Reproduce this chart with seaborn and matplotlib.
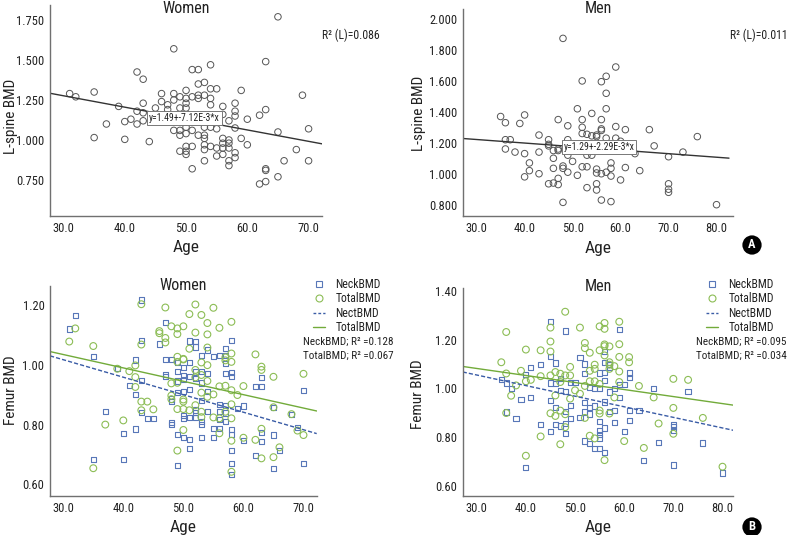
import numpy as np
import matplotlib
matplotlib.use('Agg')
import matplotlib.pyplot as plt
from matplotlib import font_manager
from matplotlib.lines import Line2D
from matplotlib.ticker import FormatStrFormatter
import seaborn as sns

# ---- data ----
# (A) lumbar spine BMD vs age
women_ls_age = [31, 32, 35, 35, 37, 39, 40, 40, 41, 42, 42, 42, 43, 43, 43, 43, 44, 45, 46, 46,
                47, 47, 48, 48, 48, 48, 49, 49, 49, 49, 49, 50, 50, 50, 50, 50, 50, 50, 50, 50,
                51, 51, 51, 51, 51, 52, 52, 52, 52, 52, 53, 53, 53, 53, 53, 53, 53, 53, 54, 54,
                54, 54, 54, 54, 55, 55, 55, 55, 56, 56, 56, 56, 56, 56, 57, 57, 57, 57, 57, 57,
                58, 58, 58, 58, 58, 58, 59, 59, 60, 60, 62, 62, 63, 63, 63, 63, 63, 65, 65, 65,
                66, 68, 69, 70, 70, 49, 50, 51, 52]
women_ls_bmd = [1.29, 1.27, 1.30, 1.015, 1.10, 1.21, 1.115, 1.004, 1.13, 1.425, 1.18, 1.10, 1.38, 1.23,
                1.17, 1.12, 0.99, 1.20, 1.29, 1.24, 1.22, 1.19, 1.57, 1.29, 1.25, 1.06, 1.27, 1.20,
                1.06, 1.03, 0.93, 1.31, 1.26, 1.23, 1.20, 1.08, 1.04, 0.96, 0.93, 0.91, 1.44, 1.27,
                1.06, 0.96, 0.82, 1.44, 1.35, 1.28, 1.26, 1.03, 1.36, 1.28, 1.08, 1.03, 1.01, 0.97,
                0.94, 0.87, 1.47, 1.32, 1.26, 1.22, 1.08, 0.96, 1.32, 1.07, 0.95, 0.90, 1.21, 1.16,
                1.01, 0.98, 0.95, 0.91, 1.12, 1.00, 0.98, 0.95, 0.87, 0.84, 1.23, 1.18, 1.15, 1.075,
                0.92, 0.89, 1.31, 1.01, 1.13, 0.97, 1.155, 0.725, 1.49, 1.19, 0.82, 0.81, 0.74, 1.77,
                1.05, 0.77, 0.87, 0.94, 1.28, 1.07, 0.87, 1.12, 1.13, 1.14, 1.12]

men_ls_age = [35, 36, 36, 36, 37, 38, 39, 40, 40, 40, 41, 41, 43, 43, 43, 45, 45, 45, 45, 46,
              46, 46, 46, 47, 47, 47, 47, 47, 48, 48, 48, 48, 49, 49, 49, 49, 50, 51, 51, 52,
              52, 52, 52, 52, 53, 53, 53, 53, 54, 54, 54, 55, 55, 55, 55, 55, 55, 56, 56, 56,
              56, 56, 56, 57, 57, 57, 57, 57, 58, 58, 58, 58, 59, 59, 59, 60, 60, 61, 61, 63,
              64, 66, 67, 70, 70, 70, 70, 73, 76, 80, 50, 51, 53]
men_ls_bmd = [1.37, 1.33, 1.22, 1.16, 1.22, 1.14, 1.325, 1.38, 1.13, 0.98, 1.07, 1.02, 1.25, 1.14,
              1.00, 1.22, 1.19, 1.18, 0.935, 1.15, 1.10, 1.035, 0.94, 1.35, 1.16, 1.15, 0.97,
              0.93, 1.875, 1.05, 1.035, 0.815, 1.31, 1.22, 1.12, 1.01, 1.08, 1.42, 0.99, 1.60,
              1.35, 1.30, 1.26, 1.045, 1.255, 1.12, 1.045, 0.91, 1.39, 1.245, 1.12, 1.25, 1.24,
              1.03, 1.005, 0.935, 0.895, 1.595, 1.35, 1.29, 1.28, 1.00, 0.83, 1.63, 1.52, 1.42,
              1.23, 1.01, 1.07, 1.035, 0.985, 0.82, 1.69, 1.305, 1.23, 1.21, 0.96, 1.285, 1.04,
              1.13, 1.02, 1.285, 1.18, 1.11, 0.935, 0.90, 0.88, 1.14, 1.24, 0.80, 1.17, 1.16, 1.19]

# fitted lines (intercept, slope)
women_ls_fit = (1.49, -7.12e-3)
men_ls_fit = (1.29, -2.29e-3)

# (B) femur BMD vs age
women_neck_age = [31, 32, 35, 35, 37, 39, 40, 40, 41, 42, 42, 42, 43, 43, 43, 43, 44, 45, 46, 47,
                  47, 47, 47, 48, 48, 48, 48, 48, 49, 49, 49, 49, 49, 49, 50, 50, 50, 50, 50, 50,
                  50, 51, 51, 51, 51, 51, 51, 51, 52, 52, 52, 52, 52, 52, 52, 53, 53, 53, 53, 53,
                  53, 53, 54, 54, 54, 54, 55, 55, 55, 56, 56, 56, 56, 56, 57, 57, 57, 57, 57, 57,
                  57, 58, 58, 58, 58, 58, 58, 58, 58, 59, 60, 60, 62, 62, 63, 63, 63, 63, 65, 65,
                  65, 66, 68, 69, 70, 70]
women_neck = [1.12, 1.165, 1.027, 0.684, 0.845, 0.987, 0.771, 0.684, 0.93, 1.016, 0.902, 0.785,
              1.217, 1.082, 0.947, 0.84, 0.82, 0.82, 1.07, 1.142, 1.017, 0.969, 0.962, 1.017,
              0.886, 0.878, 0.807, 0.80, 1.007, 0.978, 0.946, 0.907, 0.766, 0.664, 0.99, 0.965,
              0.952, 0.91, 0.83, 0.821, 0.758, 1.08, 1.007, 0.96, 0.918, 0.823, 0.75, 0.72, 1.077,
              1.06, 0.976, 0.955, 0.849, 0.84, 0.823, 1.03, 0.978, 0.939, 0.882, 0.81, 0.80,
              0.758, 1.05, 0.97, 0.91, 0.845, 1.028, 0.787, 0.756, 1.032, 0.868, 0.843, 0.816,
              0.787, 1.055, 1.03, 1.005, 0.97, 0.865, 0.839, 0.81, 1.082, 0.975, 0.962, 0.784,
              0.768, 0.714, 0.67, 0.633, 0.854, 0.862, 0.748, 0.927, 0.696, 0.958, 0.927, 0.774,
              0.743, 0.858, 0.765, 0.654, 0.714, 0.835, 0.791, 0.915, 0.669]
women_total_age = [31, 32, 35, 35, 37, 39, 40, 41, 42, 42, 42, 43, 43, 43, 43, 44, 45, 46, 46, 47,
                   47, 47, 48, 48, 48, 48, 49, 49, 49, 49, 49, 49, 49, 50, 50, 50, 50, 50, 50, 50,
                   51, 51, 51, 52, 52, 52, 52, 52, 53, 53, 53, 53, 53, 53, 54, 54, 54, 54, 54, 54,
                   55, 55, 55, 56, 56, 56, 56, 57, 57, 57, 57, 58, 58, 58, 58, 58, 58, 58, 58, 59,
                   60, 60, 62, 62, 63, 63, 63, 63, 65, 65, 65, 66, 68, 69, 70, 70]
women_total = [1.078, 1.122, 1.063, 0.654, 0.80, 0.987, 0.814, 0.979, 0.998, 0.959, 0.926, 1.203,
               1.068, 0.877, 0.848, 0.877, 0.851, 1.113, 1.106, 1.192, 1.09, 1.075, 1.129, 0.938,
               0.897, 0.885, 1.122, 1.103, 1.027, 1.01, 0.94, 0.852, 0.713, 1.129, 1.02, 1.018,
               0.884, 0.877, 0.852, 0.782, 1.17, 1.054, 0.848, 1.202, 1.108, 0.983, 0.958, 0.865,
               1.167, 1.008, 0.966, 0.907, 0.843, 0.825, 1.14, 1.102, 1.058, 0.999, 0.946, 0.893,
               1.191, 0.901, 0.824, 1.124, 0.928, 0.821, 0.771, 1.025, 1.015, 0.93, 0.843, 1.144,
               1.038, 1.01, 0.915, 0.868, 0.821, 0.746, 0.642, 0.899, 0.929, 0.756, 1.035, 0.749,
               0.994, 0.983, 0.786, 0.687, 0.96, 0.858, 0.691, 0.724, 0.835, 0.78, 0.97, 0.765]

men_neck_age = [35, 36, 36, 37, 38, 39, 40, 40, 41, 41, 43, 43, 45, 45, 45, 45, 45, 46, 46, 46,
                46, 47, 47, 47, 48, 48, 48, 48, 48, 49, 49, 49, 50, 51, 51, 52, 52, 52, 52, 52,
                53, 53, 53, 53, 54, 54, 54, 55, 55, 55, 55, 55, 55, 55, 56, 56, 56, 56, 56, 56,
                56, 57, 57, 57, 57, 58, 58, 58, 59, 59, 59, 60, 60, 61, 61, 61, 61, 63, 64, 66,
                67, 70, 70, 70, 70, 73, 76, 80]
men_neck = [1.037, 1.022, 0.903, 0.999, 0.878, 0.954, 1.057, 0.676, 1.087, 0.963, 1.097, 0.852,
            1.273, 1.132, 1.022, 0.95, 0.823, 1.104, 1.019, 0.92, 0.852, 1.04, 0.992, 0.846,
            1.235, 0.988, 0.906, 0.857, 0.815, 1.023, 0.93, 0.876, 1.023, 1.125, 0.882, 1.10,
            1.061, 0.942, 0.903, 0.784, 1.004, 0.921, 0.895, 0.775, 1.001, 0.928, 0.754, 1.063,
            0.999, 0.863, 0.826, 0.812, 0.797, 0.755, 1.151, 1.107, 1.064, 1.033, 0.944, 0.838,
            0.736, 1.099, 1.087, 0.985, 0.906, 0.999, 0.91, 0.86, 1.242, 1.016, 0.963, 1.016,
            0.824, 1.063, 1.045, 0.909, 0.868, 0.909, 0.706, 1.001, 0.777, 0.853, 0.844, 0.829,
            0.686, 0.988, 0.776, 0.653]
men_total_age = [35, 36, 36, 36, 37, 38, 39, 40, 40, 40, 41, 43, 43, 43, 45, 45, 45, 45, 45, 46,
                 46, 46, 47, 47, 47, 47, 48, 48, 48, 48, 49, 49, 49, 50, 51, 51, 52, 52, 52, 52,
                 53, 53, 53, 53, 54, 54, 54, 54, 55, 55, 55, 55, 55, 56, 56, 56, 56, 56, 56, 57,
                 57, 57, 57, 57, 58, 58, 59, 59, 59, 59, 59, 60, 61, 61, 63, 64, 66, 67, 70, 70,
                 70, 73, 76, 80]
men_total = [1.107, 1.231, 1.061, 0.899, 0.97, 1.012, 1.072, 1.159, 1.029, 0.724, 1.035, 1.156,
             1.05, 0.803, 1.249, 1.192, 1.151, 1.053, 0.898, 1.067, 0.971, 0.887, 1.06, 1.026,
             0.909, 0.771, 1.314, 1.053, 0.894, 0.841, 1.088, 1.053, 0.958, 0.992, 1.249, 0.978,
             1.186, 1.165, 1.01, 0.879, 1.146, 1.072, 1.029, 0.806, 1.097, 1.08, 1.029, 0.795,
             1.254, 1.156, 1.018, 0.909, 0.897, 1.268, 1.244, 1.18, 1.173, 1.135, 0.706, 1.172,
             1.107, 1.097, 1.08, 0.897, 1.091, 0.963, 1.273, 1.181, 1.129, 1.069, 1.026, 0.784,
             1.128, 1.107, 1.01, 0.756, 0.963, 0.856, 1.039, 0.92, 0.814, 1.035, 0.879, 0.679]

women_neck_fit = (1.193, -0.00586)
women_total_fit = (1.169, -0.00448)
men_neck_fit = (1.185, -0.00434)
men_total_fit = (1.168, -0.00288)

# ---- style ----
sns.set_style('white')


def pick_font():
    # reference uses a condensed grotesque; take the narrowest thing installed
    entries = font_manager.fontManager.ttflist
    names = {f.name for f in entries}
    for nm in ['Roboto Condensed', 'Liberation Sans Narrow', 'Noto Sans Condensed',
               'Open Sans Condensed', 'DejaVu Sans Condensed']:
        if nm in names:
            return nm, 'normal'
    for nm in ['Roboto', 'Noto Sans', 'Open Sans', 'DejaVu Sans']:
        for f in entries:
            if f.name == nm and str(f.stretch) in ('condensed', 'semi-condensed', 'extra-condensed'):
                return nm, str(f.stretch)
    return 'Liberation Sans', 'normal'


base_font, stretch = pick_font()
plt.rcParams['font.family'] = [base_font, 'DejaVu Sans']
plt.rcParams['font.stretch'] = stretch
plt.rcParams['axes.edgecolor'] = '#707070'
plt.rcParams['axes.linewidth'] = 1.0

TXT = '#222222'
GRAY_PT = '#555555'
BLUE = '#5877b8'
GREEN = '#8cbd55'
BLUE_LINE = '#3a5ca6'
GREEN_LINE = '#72ab3a'


def style_axes(ax, xlim, ylim, xticks, yticks, yfmt, ylabel, xl_y, yl_x, yl_y):
    ax.set_xlim(*xlim)
    ax.set_ylim(*ylim)
    ax.set_xticks(xticks)
    ax.set_yticks(yticks)
    ax.xaxis.set_major_formatter(FormatStrFormatter('%.1f'))
    ax.yaxis.set_major_formatter(FormatStrFormatter(yfmt))
    sns.despine(ax=ax)
    ax.tick_params(direction='in', length=4, width=0.8, color='#707070',
                   labelsize=9, labelcolor=TXT, pad=4)
    ax.set_xlabel('Age', fontsize=12.5, color=TXT)
    ax.set_ylabel(ylabel, fontsize=11, color=TXT)
    ax.xaxis.set_label_coords(0.5, xl_y)
    ax.yaxis.set_label_coords(yl_x, yl_y)


def fit_line(ax, fit, xlim, **kw):
    xs = np.linspace(xlim[0], xlim[1], 50)
    sns.lineplot(x=xs, y=fit[0] + fit[1] * xs, ax=ax, **kw)


fig = plt.figure(figsize=(7.88, 5.35), dpi=100)

# ---- A: women ----
ax = fig.add_axes([0.0635, 0.5963, 0.3452, 0.3944])
xl = (27.8, 72.2)
sns.scatterplot(x=women_ls_age, y=women_ls_bmd, ax=ax, marker='o', s=22,
                facecolors='none', edgecolor=GRAY_PT, linewidth=0.7)
fit_line(ax, women_ls_fit, xl, color='#333333', linewidth=1.0)
style_axes(ax, xl, (0.525, 1.844), [30, 40, 50, 60, 70], [0.75, 1.0, 1.25, 1.5, 1.75],
           '%.3f', 'L-spine BMD', -0.114, -0.1176, 0.474)
ax.text(0.5, 0.985, 'Women', transform=ax.transAxes, ha='center', va='center', fontsize=11.5, color=TXT)
ax.text(49.7, 1.135, 'y=1.49+-7.12E-3*x', ha='center', va='center', fontsize=7, color=TXT,
        bbox=dict(boxstyle='square,pad=0.2', fc='white', ec='#777777', lw=0.7))
fig.text(322 / 788, 1 - 35 / 535, 'R² (L)=0.086', ha='left', va='center', fontsize=8.5, color=TXT)

# ---- A: men ----
ax = fig.add_axes([0.5872, 0.5963, 0.3434, 0.3869])
xl = (27.1, 83.5)
sns.scatterplot(x=men_ls_age, y=men_ls_bmd, ax=ax, marker='o', s=22,
                facecolors='none', edgecolor=GRAY_PT, linewidth=0.7)
fit_line(ax, men_ls_fit, (27.1, 82.6), color='#333333', linewidth=1.0)
style_axes(ax, xl, (0.727, 2.065), [30, 40, 50, 60, 70, 80], [0.8, 1.0, 1.2, 1.4, 1.6, 1.8, 2.0],
           '%.3f', 'L-spine BMD', -0.121, -0.137, 0.495)
ax.text(0.5, 1.0, 'Men', transform=ax.transAxes, ha='center', va='center', fontsize=11.5, color=TXT)
ax.text(55.5, 1.175, 'y=1.29+-2.29E-3*x', ha='center', va='center', fontsize=7, color=TXT,
        bbox=dict(boxstyle='square,pad=0.2', fc='white', ec='#777777', lw=0.7))
fig.text(730 / 788, 1 - 35 / 535, 'R² (L)=0.011', ha='left', va='center', fontsize=8.5, color=TXT)
fig.text(752 / 788, 1 - 245 / 535, 'A', ha='center', va='center', color='white', fontsize=9,
         fontweight='bold', bbox=dict(boxstyle='circle,pad=0.25', fc='black', ec='none'))


def femur_panel(rect, xl, yl, xticks, yticks, neck_age, neck, total_age, total, neck_fit,
                total_fit, title, title_y, labs, leg_x, r2_x, xl_y, yl_x, yl_y):
    ax = fig.add_axes(rect)
    sns.scatterplot(x=neck_age, y=neck, ax=ax, marker='s', s=14, facecolors='none',
                    edgecolor=BLUE, linewidth=0.8)
    sns.scatterplot(x=total_age, y=total, ax=ax, marker='o', s=24, facecolors='none',
                    edgecolor=GREEN, linewidth=0.8)
    fit_line(ax, neck_fit, xl, color=BLUE_LINE, linewidth=1.0, linestyle=(0, (3, 1.5)))
    fit_line(ax, total_fit, xl, color=GREEN_LINE, linewidth=1.0)
    style_axes(ax, xl, yl, xticks, yticks, '%.2f', 'Femur BMD', xl_y, yl_x, yl_y)
    ax.text(0.5, title_y, title, transform=ax.transAxes, ha='center', va='center',
            fontsize=11.5, color=TXT)
    handles = [
        Line2D([], [], marker='s', ls='none', mfc='none', mec=BLUE, ms=4, mew=0.8),
        Line2D([], [], marker='o', ls='none', mfc='none', mec=GREEN, ms=5, mew=0.8),
        Line2D([], [], color=BLUE_LINE, lw=1.0, ls=(0, (2, 1.5))),
        Line2D([], [], color=GREEN_LINE, lw=1.0),
    ]
    ax.legend(handles, ['NeckBMD', 'TotalBMD', 'NectBMD', 'TotalBMD'], loc='upper left',
              bbox_to_anchor=(leg_x / 788, 1 - 278 / 535), bbox_transform=fig.transFigure,
              frameon=False, fontsize=8.5, handlelength=1.0, handletextpad=0.9,
              labelspacing=0.12, borderpad=0, borderaxespad=0, labelcolor=TXT)
    fig.text(r2_x / 788, 1 - 342 / 535, labs[0], ha='left', va='center', fontsize=8, color=TXT)
    fig.text(r2_x / 788, 1 - 356 / 535, labs[1], ha='left', va='center', fontsize=8, color=TXT)
    return ax


# ---- B: women ----
femur_panel([0.0635, 0.0729, 0.3384, 0.3931], (27.8, 72.2), (0.561, 1.265), [30, 40, 50, 60, 70],
            [0.6, 0.8, 1.0, 1.2], women_neck_age, women_neck, women_total_age, women_total,
            women_neck_fit, women_total_fit, 'Women', 1.0,
            ('NeckBMD; R² =0.128', 'TotalBMD; R² =0.067'), 313, 303, -0.114, -0.12, 0.504)

# ---- B: men ----
femur_panel([0.5872, 0.0729, 0.3434, 0.3882], (27.15, 82.2), (0.559, 1.41),
            [30, 40, 50, 60, 70, 80], [0.6, 0.8, 1.0, 1.2, 1.4], men_neck_age, men_neck,
            men_total_age, men_total, men_neck_fit, men_total_fit, 'Men', 1.01,
            ('NeckBMD; R² =0.095', 'TotalBMD; R² =0.034'), 706, 696, -0.116, -0.139, 0.49)
fig.text(752 / 788, 1 - 527 / 535, 'B', ha='center', va='center', color='white', fontsize=9,
         fontweight='bold', bbox=dict(boxstyle='circle,pad=0.25', fc='black', ec='none'))

fig.savefig('out.png', dpi=100)
